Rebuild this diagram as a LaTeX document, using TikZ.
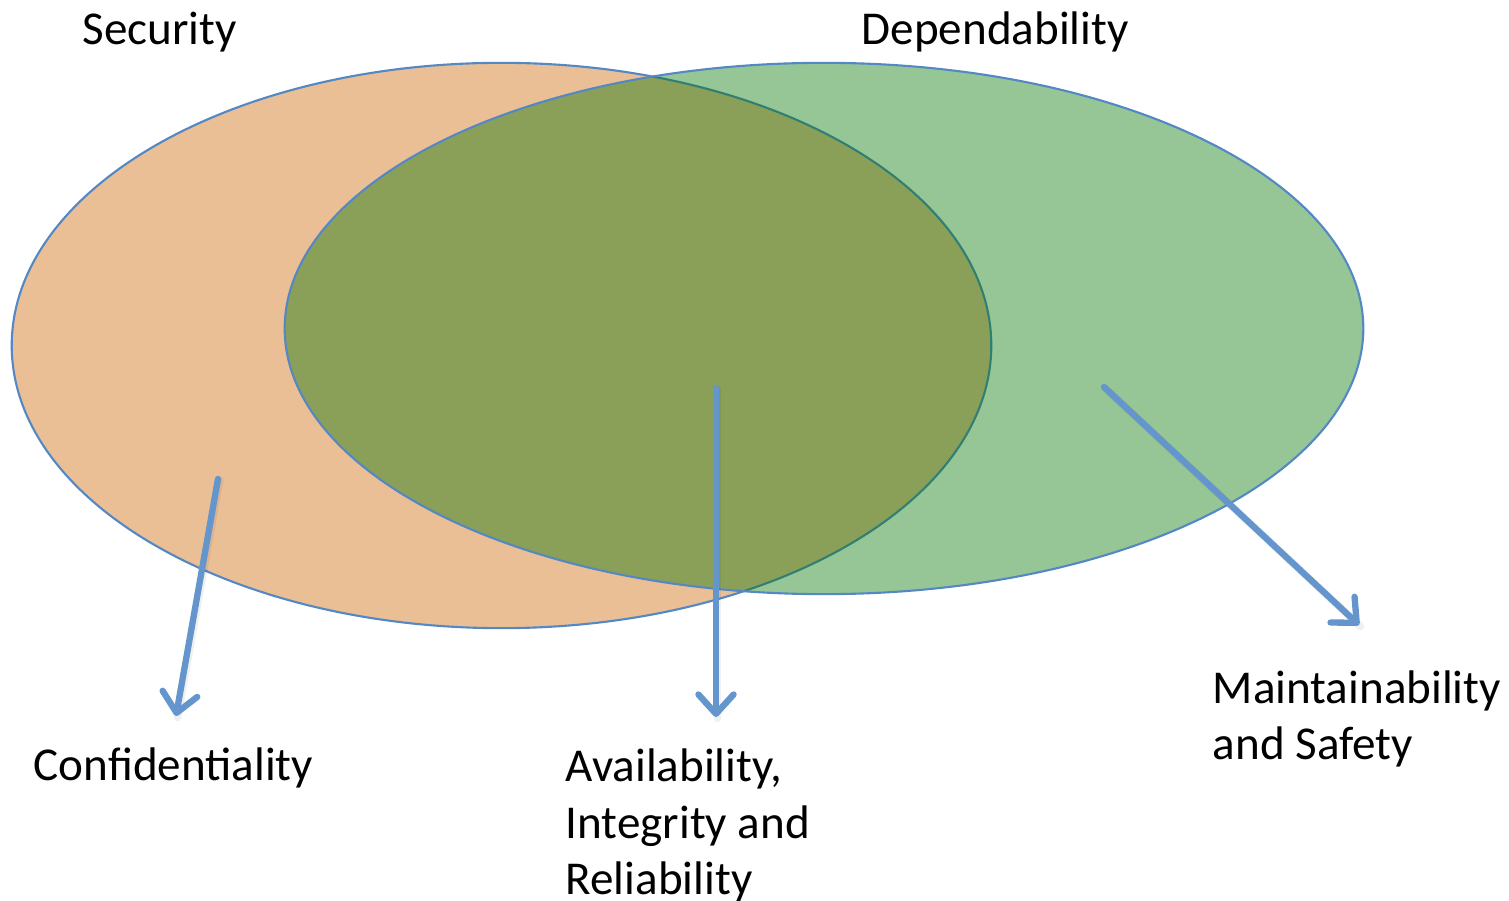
\documentclass[tikz,border=0pt]{standalone}
\usepackage{fontspec}
\setmainfont{Carlito}
\usetikzlibrary{arrows.meta}
\definecolor{secfill}{RGB}{235,191,150}
\definecolor{depfill}{RGB}{0,116,0}
\definecolor{rim}{RGB}{84,136,196}
\definecolor{pointer}{RGB}{100,150,205}
\tikzset{
  setrim/.style={draw=rim, line width=0.6pt},
  label/.style={anchor=base west, inner sep=0pt, align=left,
    font=\fontsize{13.4}{16.2}\selectfont},
  pointerline/.style={draw=pointer, line width=1.8pt, line cap=round, line join=round,
    -{Straight Barb[length=5.5pt, width=10pt, line width=1.8pt, round]}},
  pointershade/.style={draw=black, opacity=0.06, line width=2.2pt, line cap=round}
}
\begin{document}
\begin{tikzpicture}[x=0.01cm, y=-0.01cm]
  \useasboundingbox (0,0) rectangle (1509,901);

  % the two sets
  \path[setrim, fill=secfill] (501.5,345.5) ellipse [x radius=4.895cm, y radius=2.825cm];
  \path[setrim, fill=depfill, fill opacity=0.41] (824,328.5) ellipse [x radius=5.39cm, y radius=2.655cm];

  % set titles
  \node[label] (sec) at (82,45) {Security};
  \node[label] (dep) at (861,45) {Dependability};

  % property labels (base west sits on the last line)
  \node[label] (conf) at (33,781) {Confidentiality};
  \node[label] (air) at (565,895) {Availability,\\Integrity and\\Reliability};
  \node[label] (ms) at (1212,760) {Maintainability\\and Safety};

  % pointers from the regions to their properties
  \coordinate (c0) at (218,479);
  \coordinate (c1) at (176,716);
  \coordinate (m0) at (716,388);
  \coordinate (m1) at (716,717);
  \coordinate (d0) at (1104,387);
  \coordinate (d1) at (1359,625);

  \draw[pointershade] ([shift={(1.5,1.5)}]c0) -- ([shift={(1.5,1.5)}]c1);
  \draw[pointershade] ([shift={(1.5,1.5)}]m0) -- ([shift={(1.5,1.5)}]m1);
  \draw[pointershade] ([shift={(1.5,1.5)}]d0) -- ([shift={(1.5,1.5)}]d1);

  \draw[pointerline] (c0) -- (c1);
  \draw[pointerline] (m0) -- (m1);
  \draw[pointerline] (d0) -- (d1);
\end{tikzpicture}
\end{document}
